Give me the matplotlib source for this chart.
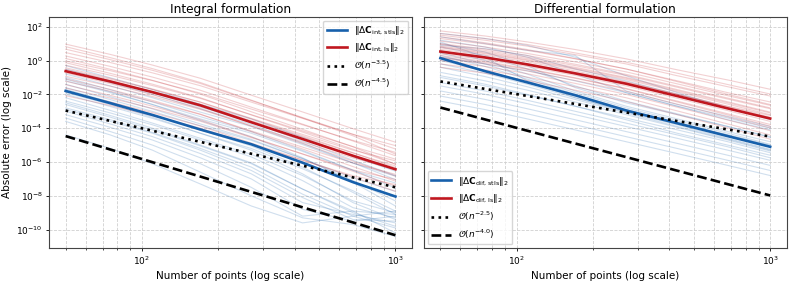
"""
Convergence of the absolute error: integral vs differential formulation
"""

import numpy as np
import matplotlib.pyplot as plt
from matplotlib.ticker import NullFormatter, LogLocator

plt.rcParams["font.family"] = ["DejaVu Sans"]
plt.rcParams["mathtext.fontset"] = "dejavusans"

BLUE = "#1760ab"
RED = "#c0171f"

# number of points at which the curves are sampled
n_pts = [50, 75, 110, 170, 270, 430, 680, 1000]
n_line = [50, 1000]

# log10 of the error -- integral formulation
int_stls_mean = [-1.80, -2.52, -3.22, -4.08, -4.95, -6.04, -7.19, -8.04]
int_ls_mean = [-0.63, -1.24, -1.87, -2.65, -3.65, -4.64, -5.63, -6.43]
int_rate_a = [1.1e-3, 3.2e-8]  # O(n^-3.5)
int_rate_b = [3.4e-5, 4.7e-11]  # O(n^-4.5)

int_stls_runs = [
    [-0.30, -1.02, -1.72, -2.58, -3.45, -4.54, -5.69, -6.54],
    [-0.60, -1.31, -2.00, -2.86, -3.77, -4.88, -6.05, -7.04],
    [-0.80, -1.50, -2.20, -3.05, -3.90, -4.97, -6.07, -6.84],
    [-1.00, -1.73, -2.45, -3.32, -4.20, -5.31, -6.48, -7.54],
    [-1.20, -1.90, -2.60, -3.45, -4.30, -5.37, -6.50, -7.24],
    [-1.40, -2.14, -2.86, -3.75, -4.66, -5.80, -7.10, -8.30],
    [-1.60, -2.31, -3.01, -3.86, -4.72, -5.80, -6.94, -7.74],
    [-2.00, -2.72, -3.42, -4.30, -5.20, -6.40, -7.70, -8.90],
    [-2.20, -2.95, -3.70, -4.60, -5.55, -6.80, -8.30, -9.00],
    [-2.40, -3.10, -3.80, -4.70, -5.70, -7.10, -8.70, -9.30],
    [-2.60, -3.35, -4.10, -5.05, -6.10, -7.60, -8.90, -9.10],
    [-2.80, -3.50, -4.25, -5.20, -6.30, -7.90, -9.20, -8.90],
    [-3.00, -3.75, -4.50, -5.50, -6.70, -8.40, -9.10, -9.60],
    [-3.20, -3.95, -4.70, -5.75, -7.00, -8.80, -9.50, -9.20],
    [-3.40, -4.20, -5.00, -6.10, -7.50, -9.20, -8.90, -10.2],
    [-1.10, -1.85, -2.60, -3.55, -4.50, -5.75, -7.20, -8.60],
    [-1.90, -2.60, -3.35, -4.30, -5.30, -6.70, -8.40, -9.40],
    [-2.50, -3.25, -4.00, -5.00, -6.05, -7.60, -9.00, -9.80],
    [-3.60, -4.40, -5.30, -6.60, -8.00, -9.30, -9.70, -10.4],
    [-4.40, -5.20, -6.10, -7.30, -8.60, -9.60, -9.20, -9.90],
    [-0.50, -1.20, -1.90, -2.75, -3.65, -4.75, -5.90, -6.80],
    [-1.70, -2.45, -3.20, -4.10, -5.05, -6.30, -7.80, -9.10],
    [-2.90, -3.60, -4.30, -5.30, -6.50, -8.10, -9.40, -9.50],
]

int_ls_runs = [
    [0.97, 0.36, -0.27, -1.05, -2.05, -3.04, -4.03, -4.83],
    [0.67, 0.05, -0.58, -1.36, -2.37, -3.37, -4.37, -5.23],
    [0.47, -0.12, -0.73, -1.49, -2.46, -3.42, -4.36, -5.03],
    [0.27, -0.35, -0.98, -1.76, -2.76, -3.76, -4.76, -5.63],
    [-0.03, -0.60, -1.19, -1.93, -2.87, -3.80, -4.72, -5.43],
    [-0.13, -0.76, -1.40, -2.20, -3.22, -4.23, -5.24, -6.13],
    [-0.28, -0.87, -1.48, -2.24, -3.20, -4.16, -5.09, -5.83],
    [-0.43, -1.05, -1.68, -2.46, -3.46, -4.45, -5.45, -6.33],
    [-0.53, -1.11, -1.71, -2.46, -3.42, -4.37, -5.30, -5.93],
    [-0.73, -1.37, -2.02, -2.83, -3.88, -4.91, -5.95, -6.83],
    [-0.93, -1.52, -2.13, -2.89, -3.86, -4.82, -5.76, -6.43],
    [-1.08, -1.71, -2.36, -3.17, -4.21, -5.23, -6.27, -7.13],
    [-1.23, -1.82, -2.43, -3.19, -4.16, -5.12, -6.06, -6.73],
    [-1.43, -2.06, -2.70, -3.50, -4.52, -5.53, -6.55, -7.43],
    [-1.63, -2.22, -2.83, -3.59, -4.56, -5.52, -6.47, -7.03],
    [-1.83, -2.45, -3.08, -3.87, -4.88, -5.88, -6.89, -7.73],
    [0.12, -0.52, -1.17, -1.99, -3.03, -4.07, -5.10, -6.13],
    [0.82, 0.17, -0.48, -1.30, -2.34, -3.40, -4.45, -5.53],
    [-2.08, -2.66, -3.26, -4.00, -4.97, -5.90, -6.81, -7.33],
    [-0.63, -1.22, -1.83, -2.59, -3.56, -4.52, -5.47, -6.23],
]

# log10 of the error -- differential formulation
dif_stls_mean = [0.14, -0.63, -1.29, -2.05, -2.95, -3.71, -4.47, -5.10]
dif_ls_mean = [0.53, 0.18, -0.23, -0.76, -1.37, -2.10, -2.83, -3.43]
dif_rate_a = [5.8e-2, 3.2e-5]  # O(n^-2.5)
dif_rate_b = [1.66e-3, 1.05e-8]  # O(n^-4.0)

dif_stls_runs = [
    [1.60, 1.30, 0.90, 0.20, -0.90, -1.90, -2.80, -3.50],
    [1.20, 0.80, 0.20, -0.80, -1.90, -2.70, -3.40, -4.00],
    [1.00, 0.50, -0.30, -1.60, -2.50, -3.20, -3.90, -4.50],
    [0.80, 0.30, -0.50, -1.50, -2.40, -3.15, -3.90, -4.55],
    [0.60, 0.00, -0.80, -1.80, -2.70, -3.45, -4.20, -4.80],
    [0.45, -0.20, -1.00, -1.90, -2.80, -3.55, -4.30, -4.95],
    [0.30, -0.35, -1.10, -2.00, -2.90, -3.65, -4.40, -5.05],
    [0.00, -0.60, -1.30, -2.10, -2.95, -3.70, -4.45, -5.10],
    [-0.20, -0.75, -1.40, -2.20, -3.05, -3.80, -4.60, -5.25],
    [-0.40, -0.95, -1.55, -2.30, -3.10, -3.90, -4.65, -5.30],
    [-0.70, -1.20, -1.75, -2.45, -3.20, -3.95, -4.70, -5.35],
    [-1.00, -1.50, -2.05, -2.70, -3.40, -4.10, -4.80, -5.45],
    [-1.30, -1.80, -2.35, -3.00, -3.70, -4.40, -5.10, -5.75],
    [-1.50, -2.00, -2.55, -3.20, -3.90, -4.60, -5.30, -5.90],
    [-1.80, -2.30, -2.85, -3.50, -4.20, -4.90, -5.60, -6.20],
    [-2.10, -2.60, -3.15, -3.80, -4.50, -5.20, -5.90, -6.50],
    [-2.40, -2.90, -3.45, -4.10, -4.80, -5.50, -6.20, -6.80],
    [1.40, 1.00, 0.60, 0.30, -1.80, -2.60, -3.30, -3.90],
    [0.90, 0.70, 0.30, -0.50, -1.20, -2.00, -2.80, -3.40],
    [0.20, -0.20, -0.60, -1.20, -1.90, -2.70, -3.50, -4.10],
    [-0.90, -1.40, -2.00, -2.70, -3.50, -4.30, -5.00, -5.60],
    [1.10, 0.20, -1.20, -2.20, -3.00, -3.70, -4.40, -5.00],
]

dif_ls_runs = [
    [1.75, 1.45, 1.10, 0.65, 0.10, -0.55, -1.15, -1.70],
    [1.50, 1.20, 0.85, 0.35, -0.20, -0.90, -1.55, -2.10],
    [1.30, 0.98, 0.60, 0.10, -0.50, -1.20, -1.90, -2.45],
    [1.15, 0.80, 0.42, -0.08, -0.67, -1.38, -2.08, -2.65],
    [1.00, 0.68, 0.30, -0.22, -0.82, -1.52, -2.22, -2.80],
    [0.85, 0.52, 0.12, -0.40, -1.00, -1.72, -2.44, -3.05],
    [0.75, 0.40, 0.00, -0.52, -1.12, -1.85, -2.58, -3.20],
    [0.65, 0.32, -0.08, -0.62, -1.25, -1.98, -2.72, -3.35],
    [0.40, 0.05, -0.35, -0.88, -1.50, -2.23, -2.96, -3.60],
    [0.30, -0.05, -0.48, -1.02, -1.65, -2.40, -3.15, -3.78],
    [0.15, -0.20, -0.62, -1.18, -1.82, -2.58, -3.34, -3.98],
    [0.00, -0.35, -0.78, -1.35, -2.00, -2.76, -3.52, -4.15],
    [-0.20, -0.55, -0.98, -1.55, -2.20, -2.98, -3.75, -4.40],
    [-0.40, -0.75, -1.18, -1.75, -2.42, -3.20, -3.98, -4.65],
    [1.40, 1.05, 0.65, 0.12, -0.50, -1.25, -2.00, -2.60],
    [0.95, 0.60, 0.20, -0.30, -0.88, -1.58, -2.28, -2.85],
    [0.55, 0.22, -0.18, -0.70, -1.30, -2.00, -2.70, -3.25],
    [0.20, -0.12, -0.52, -1.05, -1.68, -2.45, -3.22, -3.88],
    [1.60, 1.30, 0.95, 0.45, -0.10, -0.75, -1.42, -1.98],
    [0.80, 0.45, 0.05, -0.46, -1.05, -1.78, -2.50, -3.10],
]


def draw_panel(ax, stls_runs, ls_runs, stls_mean, ls_mean, rate_a, rate_b, labels):
    for run in stls_runs:
        ax.loglog(n_pts, 10.0 ** np.array(run), color=BLUE, lw=0.8, alpha=0.2)
    for run in ls_runs:
        ax.loglog(n_pts, 10.0 ** np.array(run), color=RED, lw=0.8, alpha=0.2)
    ax.loglog(n_pts, 10.0 ** np.array(stls_mean), color=BLUE, lw=1.9, label=labels[0])
    ax.loglog(n_pts, 10.0 ** np.array(ls_mean), color=RED, lw=1.9, label=labels[1])
    ax.loglog(n_line, rate_a, color="black", ls=":", lw=1.9, label=labels[2])
    ax.loglog(n_line, rate_b, color="black", ls="--", lw=1.9, label=labels[3])
    ax.grid(True, which="both", ls="--", lw=0.6, color="#d0d0d0")
    ax.set_xlabel("Number of points (log scale)", fontsize=7.5, labelpad=3)
    ax.xaxis.set_minor_formatter(NullFormatter())
    ax.yaxis.set_minor_formatter(NullFormatter())
    ax.tick_params(labelsize=6.5, length=2.5, width=0.6, pad=2)
    ax.tick_params(which="minor", length=1.5, width=0.5)
    for s in ax.spines.values():
        s.set_color("#444444")


fig, (ax1, ax2) = plt.subplots(1, 2, sharey=True, figsize=(7.93, 2.84), dpi=100)
fig.subplots_adjust(left=0.062, right=0.992, top=0.94, bottom=0.127, wspace=0.033)

draw_panel(
    ax1, int_stls_runs, int_ls_runs, int_stls_mean, int_ls_mean, int_rate_a, int_rate_b,
    [r"$\Vert\Delta\mathbf{C}_{\mathrm{int,\,stls}}\Vert_2$",
     r"$\Vert\Delta\mathbf{C}_{\mathrm{int,\,ls}}\Vert_2$",
     r"$\mathcal{O}(n^{-3.5})$", r"$\mathcal{O}(n^{-4.5})$"],
)
draw_panel(
    ax2, dif_stls_runs, dif_ls_runs, dif_stls_mean, dif_ls_mean, dif_rate_a, dif_rate_b,
    [r"$\Vert\Delta\mathbf{C}_{\mathrm{dif,\,stls}}\Vert_2$",
     r"$\Vert\Delta\mathbf{C}_{\mathrm{dif,\,ls}}\Vert_2$",
     r"$\mathcal{O}(n^{-2.5})$", r"$\mathcal{O}(n^{-4.0})$"],
)

ax1.set_ylim(10 ** -11.08, 10 ** 2.57)
ax1.set_yticks([10.0 ** k for k in range(-10, 3, 2)])
ax1.set_ylabel("Absolute error (log scale)", fontsize=7.5, labelpad=3)
ax1.set_title("Integral formulation", fontsize=8.7, pad=3)
ax2.set_title("Differential formulation", fontsize=8.7, pad=3)
ax1.legend(loc="upper right", fontsize=6.5, handlelength=2.2, borderaxespad=0.4)
ax2.legend(loc="lower left", fontsize=6.5, handlelength=2.2, borderaxespad=0.4)

plt.savefig("out.png", dpi=100)
